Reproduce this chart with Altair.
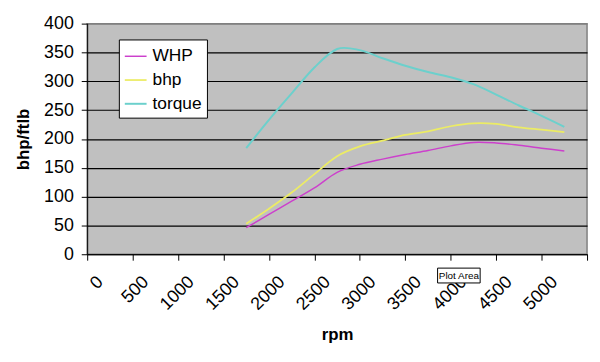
import altair as alt
import pandas as pd

# ---- data ----
rpm = [1750, 2000, 2250, 2500, 2750, 3000, 3250, 3500, 3750, 4000, 4250, 4500, 4750, 5000, 5250]
whp = [46, 69, 92, 115, 142, 156, 165, 173, 180, 188, 194, 193, 189, 184, 179]
bhp = [53, 79, 107, 139, 170, 187, 197, 207, 213, 222, 227, 226, 220, 216, 212]
torque = [184, 233, 279, 324, 356, 354, 340, 327, 316, 307, 295, 277, 258, 240, 221]

series = ["WHP", "bhp", "torque"]
colors = ["#cc40cc", "#ecec64", "#6cd0cc"]
widths = [1.5, 2, 3]

x_ticks = list(range(0, 5501, 500))
y_ticks = list(range(0, 401, 50))

tip_label = ["Plot Area"]

rows = []
for s, vals in zip(series, [whp, bhp, torque]):
    for r, v in zip(rpm, vals):
        rows.append({"rpm": r, "value": v, "series": s})
df = pd.DataFrame(rows)

FONT = "Liberation Sans"

lines = alt.Chart(df).mark_line(interpolate="cardinal").encode(
    x=alt.X(
        "rpm:Q",
        scale=alt.Scale(domain=[0, 5500], nice=False, zero=False),
        axis=alt.Axis(
            values=x_ticks,
            format="d",
            labelExpr="datum.value == 5500 ? '' : datum.label",
            labelAngle=-45,
            labelAlign="right",
            labelBaseline="middle",
            labelOffset=13,
            labelPadding=19,
            labelFontSize=18,
            labelFont=FONT,
            labelColor="black",
            tickSize=6,
            tickColor="black",
            domainColor="black",
            grid=False,
            title="rpm",
            titleFont=FONT,
            titleFontSize=17,
            titleFontWeight="bold",
            titleColor="black",
            titleBaseline="alphabetic",
            titleY=86,
        ),
    ),
    y=alt.Y(
        "value:Q",
        scale=alt.Scale(domain=[0, 400], nice=False),
        axis=alt.Axis(
            values=y_ticks,
            labelFontSize=18,
            labelFont=FONT,
            labelColor="black",
            labelPadding=8,
            tickSize=6,
            tickColor="black",
            domainColor="black",
            grid=True,
            gridColor={"condition": {"test": "datum.value === 400", "value": "#808080"}, "value": "black"},
            gridWidth=1.2,
            title="bhp/ftlb",
            titleFont=FONT,
            titleFontSize=17,
            titleFontWeight="bold",
            titleColor="black",
            titleBaseline="alphabetic",
            titleX=-59,
        ),
    ),
    color=alt.Color(
        "series:N",
        scale=alt.Scale(domain=series, range=colors),
        legend=alt.Legend(
            title=None,
            orient="none",
            legendX=32,
            legendY=16,
            fillColor="white",
            strokeColor="black",
            padding=5,
            symbolType="stroke",
            symbolSize=484,
            symbolStrokeWidth=1.5,
            labelFont=FONT,
            labelFontSize=17.5,
            labelColor="black",
            labelOffset=5,
            rowPadding=3,
        ),
    ),
    strokeWidth=alt.StrokeWidth(
        "series:N", scale=alt.Scale(domain=series, range=widths), legend=None
    ),
)

tip_df = pd.DataFrame({"label": tip_label})
tip_box = alt.Chart(tip_df).mark_rect(fill="#ffffff", stroke="black", strokeWidth=1).encode(
    x=alt.value(354), x2=alt.value(397), y=alt.value(247), y2=alt.value(262)
)
tip_text = alt.Chart(tip_df).mark_text(font=FONT, fontSize=10, color="black").encode(
    x=alt.value(375.5), y=alt.value(254.5), text="label:N"
)

chart = alt.layer(lines, tip_box, tip_text).properties(
    width=505,
    height=233,
    autosize=alt.AutoSizeParams(type="none"),
    padding={"left": 80, "top": 14, "right": 5, "bottom": 100},
    background="white",
).configure_view(
    fill="#c0c0c0", stroke="#808080", strokeWidth=1.5
)

chart.save("out.html", embed_options={"renderer": "svg", "actions": False})
